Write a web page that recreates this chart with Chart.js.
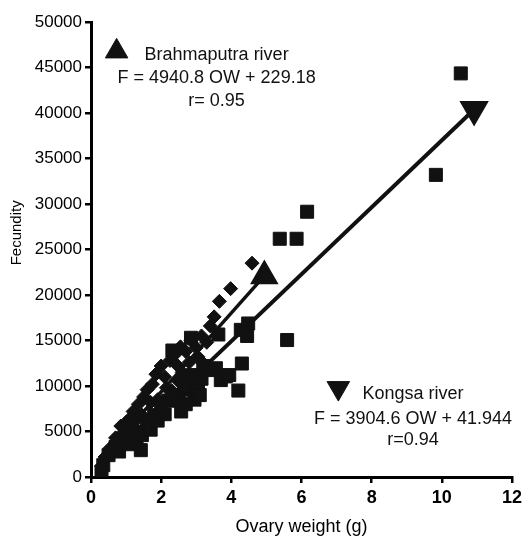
<!DOCTYPE html>
<html>
<head>
<meta charset="utf-8">
<script src="https://cdn.jsdelivr.net/npm/chart.js@4"></script>
<style>
  html, body { margin: 0; padding: 0; background: #fff; }
  #wrap { width: 529px; height: 550px; }
</style>
</head>
<body>
<div id="wrap"><canvas id="fecundityChart"></canvas></div>
<script>
// Brahmaputra river samples (diamonds)
const brahmaOW = [0.30, 0.40, 0.55, 0.70, 0.85, 0.95, 1.00, 1.10, 1.20, 1.30, 1.35, 1.45, 1.50, 1.60, 1.70, 1.75, 1.85, 1.90, 2.00, 2.05, 2.10, 2.15, 2.25, 2.30, 2.40, 2.45, 2.50, 2.55, 2.60, 2.70, 2.80, 2.85, 3.00, 3.05, 3.15, 3.20, 3.30, 3.40, 3.51, 3.66, 3.98, 4.59];
const brahmaF  = [1200, 2200, 3200, 4300, 5600, 5000, 6000, 6400, 7200, 6300, 8000, 6800, 8800, 9600, 8200, 10200, 11300, 8500, 12200, 7200, 11000, 9800, 12800, 9500, 13500, 12300, 10500, 14300, 11500, 13800, 12600, 15000, 14200, 13200, 15500, 12500, 14800, 16600, 17600, 19300, 20700, 23500];

// Kongsa river samples (squares)
const kongsaOW = [0.30, 0.35, 0.50, 0.70, 0.80, 0.90, 1.05, 1.15, 1.20, 1.30, 1.42, 1.45, 1.60, 1.70, 1.80, 1.90, 2.00, 2.10, 2.20, 2.32, 2.40, 2.50, 2.57, 2.65, 2.70, 2.75, 2.85, 2.85, 2.90, 2.95, 3.00, 3.05, 3.10, 3.15, 3.20, 3.39, 3.56, 3.63, 3.70, 3.84, 3.94, 4.20, 4.27, 4.30, 4.45, 4.48, 5.38, 5.59, 5.86, 6.16, 9.83, 10.54];
const kongsaF  = [600, 1300, 2400, 3300, 2800, 4200, 3800, 3600, 5000, 4200, 2950, 4600, 6000, 5200, 6800, 6200, 7800, 6900, 8400, 13900, 9000, 8400, 7200, 9800, 8000, 10800, 9600, 15300, 11200, 8500, 10400, 9500, 9000, 10800, 12200, 11750, 11950, 15660, 10650, 11050, 11200, 9500, 16170, 12470, 15500, 16870, 26180, 15050, 26180, 29150, 33200, 44350];

// fitted lines as drawn (ends)
const brahmaLineOW = [0.30, 4.94];
const brahmaLineF  = [2000, 22100];
const kongsaLineOW = [0.30, 10.92];
const kongsaLineF  = [1300, 40380];

function toPoints(xs, ys) {
    return xs.map((x, i) => ({ x: x, y: ys[i] }));
}

// draws the river keys and regression texts, anchored on data values
const riverNotes = {
    id: 'riverNotes',
    afterDatasetsDraw(chart) {
        const ctx = chart.ctx;
        const xs = chart.scales.x;
        const ys = chart.scales.y;
        const notes = [
            { mark: [0.73, 46770], rot: 0, cx: 3.58, rows: [[46360, 'Brahmaputra river'], [43800, 'F = 4940.8 OW + 229.18'], [41270, 'r= 0.95']] },
            { mark: [7.05, 9770], rot: 180, cx: 9.18, rows: [[9110, 'Kongsa river'], [6355, 'F = 3904.6 OW + 41.944'], [4040, 'r=0.94']] }
        ];
        ctx.save();
        ctx.fillStyle = '#111';
        ctx.strokeStyle = '#111';
        notes.forEach(n => {
            Chart.helpers.drawPoint(ctx, { pointStyle: 'triangle', radius: 13, rotation: n.rot, borderWidth: 1 },
                xs.getPixelForValue(n.mark[0]), ys.getPixelForValue(n.mark[1]));
            ctx.font = '18px "Liberation Sans", Arial, sans-serif';
            ctx.textAlign = 'center';
            ctx.textBaseline = 'middle';
            n.rows.forEach(r => {
                ctx.fillText(r[1], xs.getPixelForValue(n.cx), ys.getPixelForValue(r[0]));
            });
        });
        ctx.restore();
    }
};

function initializeChart() {

    const ctx = document.getElementById('fecundityChart').getContext('2d');

    new Chart(ctx, {
        type: 'scatter',
        data: {
            datasets: [
                {
                    label: 'Brahmaputra fit',
                    data: toPoints(brahmaLineOW, brahmaLineF),
                    showLine: true,
                    borderColor: '#111',
                    borderWidth: 3.5,
                    pointStyle: 'triangle',
                    pointRadius: [0, 13],
                    pointBackgroundColor: '#111',
                    pointBorderColor: '#111'
                },
                {
                    label: 'Kongsa fit',
                    data: toPoints(kongsaLineOW, kongsaLineF),
                    showLine: true,
                    borderColor: '#111',
                    borderWidth: 4,
                    pointStyle: 'triangle',
                    pointRotation: 180,
                    pointRadius: [0, 13],
                    pointBackgroundColor: '#111',
                    pointBorderColor: '#111'
                },
                {
                    label: 'Brahmaputra river',
                    data: toPoints(brahmaOW, brahmaF),
                    pointStyle: 'rectRot',
                    pointRadius: 7,
                    pointBackgroundColor: '#111',
                    pointBorderColor: '#111',
                    pointBorderWidth: 1
                },
                {
                    label: 'Kongsa river',
                    data: toPoints(kongsaOW, kongsaF),
                    pointStyle: 'rect',
                    pointRadius: 9.2,
                    pointBackgroundColor: '#111',
                    pointBorderColor: '#111',
                    pointBorderWidth: 1
                }
            ]
        },
        options: {
            responsive: true,
            maintainAspectRatio: false,
            animation: false,
            layout: { padding: { top: 22, right: 17, left: 0, bottom: 0 } },
            plugins: {
                legend: { display: false },
                tooltip: { enabled: false }
            },
            scales: {
                x: {
                    type: 'linear',
                    min: 0,
                    max: 12,
                    afterFit: s => { s.height = 73; },
                    ticks: {
                        stepSize: 2,
                        color: '#000',
                        padding: 4,
                        font: { family: '"Liberation Sans", Arial, sans-serif', size: 18, weight: 'bold' }
                    },
                    grid: { drawOnChartArea: false, drawTicks: true, tickLength: 6, color: '#000', lineWidth: 2.5 },
                    border: { color: '#000', width: 3 },
                    title: {
                        display: true,
                        text: 'Ovary weight (g)',
                        color: '#000',
                        padding: { top: 0, bottom: 12 },
                        font: { family: '"Liberation Sans", Arial, sans-serif', size: 18 }
                    }
                },
                y: {
                    min: 0,
                    max: 50000,
                    afterFit: s => { s.width = 91; },
                    ticks: {
                        stepSize: 5000,
                        color: '#000',
                        padding: 3,
                        callback: v => String(v),
                        font: { family: '"Liberation Sans", Arial, sans-serif', size: 17 }
                    },
                    grid: { drawOnChartArea: false, drawTicks: true, tickLength: 6, color: '#000', lineWidth: 2.5 },
                    border: { color: '#000', width: 3 },
                    title: {
                        display: true,
                        // leading spaces lift the word above the axis middle, as in the original
                        text: '\u00a0\u00a0\u00a0\u00a0\u00a0\u00a0\u00a0\u00a0Fecundity',
                        color: '#000',
                        padding: { top: 8, bottom: 0 },
                        font: { family: '"Liberation Sans", Arial, sans-serif', size: 15 }
                    }
                }
            }
        },
        plugins: [riverNotes]
    });
}

window.onload = function () {

    initializeChart();
};
</script>
</body>
</html>
